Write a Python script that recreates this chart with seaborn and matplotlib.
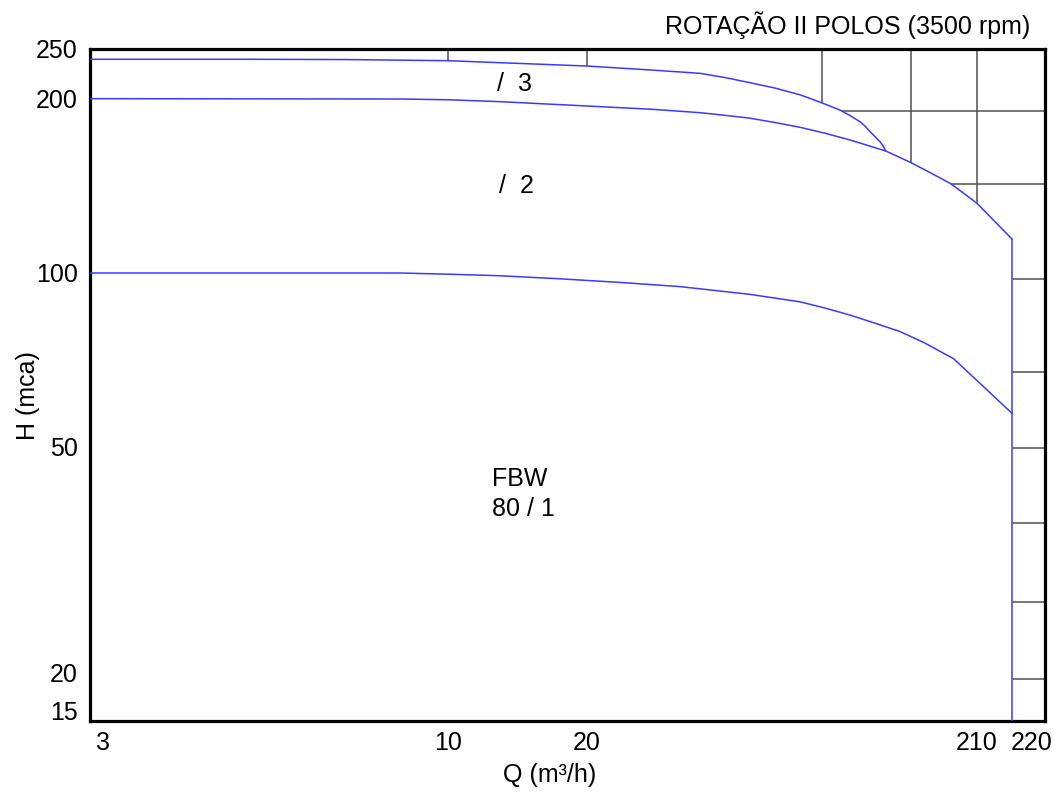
import numpy as np
import pandas as pd
import matplotlib
matplotlib.use("Agg")
import matplotlib.pyplot as plt
import seaborn as sns

# ---- performance data: flow Q (m³/h) and head H (mca) per stage ----
stage1_q = [2.866, 8.46, 10.1, 12.96, 17.48, 24.4, 35.0, 53.4, 72.2, 84.0, 97.6, 113.5,
            132.0, 153.5, 178.4, 182.1, 210.0, 216.3]
stage1_h = [100.0, 100.0, 99.5, 98.9, 97.7, 96.3, 94.7, 91.8, 89.1, 86.9, 84.5, 81.8,
            79.1, 75.5, 71.5, 71.0, 65.0, 57.0]

stage2_q = [2.866, 8.46, 10.0, 12.96, 20.0, 29.5, 39.5, 45.96, 53.4, 62.14, 72.2, 84.0,
            97.6, 121.1, 130.4, 141.1, 158.2, 178.4, 191.8, 210.0, 216.3]
stage2_h = [200.3, 200.0, 199.4, 197.9, 194.5, 192.0, 189.4, 187.4, 185.3, 182.1, 178.7, 174.5,
            169.9, 162.6, 159.0, 155.2, 149.2, 143.0, 138.1, 132.0, 114.5]

stage3_q = [2.866, 5.0, 7.0, 10.0, 20.0, 29.5, 39.5, 45.96, 53.4, 62.14, 72.2, 77.18, 82.5,
            91.9, 97.6, 103.7, 106.9, 110.2, 113.5, 117.0, 119.2, 121.1]
stage3_h = [238.8, 238.8, 238.5, 237.3, 231.7, 227.6, 224.3, 220.1, 215.1, 210.0, 203.8, 200.2, 196.9,
            191.4, 187.3, 182.7, 179.6, 175.6, 172.2, 168.7, 165.9, 162.6]

q_max = 216.3  # maximum flow of the model

# axis ticks and background grid
q_ticks = [3, 10, 20, 210, 220]
h_ticks = [15, 20, 50, 100, 200, 250]
grid_q = [10, 20, 82.5, 141.1, 210]
grid_h = [190.9, 142.6, 97.6, 67.3, 49.6, 36.6, 26.6, 19.1]

# calibration of the chart's hand-drawn axes (value -> position along axis)
Q_ANCHORS = [2.866, 3, 10, 20, 210, 220, 222.4]
Q_POS = [0, 13, 358, 497, 887, 942, 955]
H_ANCHORS = [13.77, 15, 20, 50, 100, 200, 250]
H_POS = [0, 11, 48, 275, 448, 622, 672]


def piecewise_log(anchors, positions):
    la = np.log10(np.asarray(anchors, float))
    pos = np.asarray(positions, float)

    def fwd(v):
        v = np.asarray(v, float)
        return np.interp(np.log10(np.clip(v, 1e-9, None)), la, pos)

    def inv(p):
        return 10 ** np.interp(np.asarray(p, float), pos, la)

    return fwd, inv


sns.set_theme(style="white")
plt.rcParams["font.family"] = ["Liberation Sans", "DejaVu Sans"]
plt.rcParams["text.color"] = "black"

BLUE = "#3a3aff"
GRID = "#505050"
FS = 18

df = pd.concat([
    pd.DataFrame({"Q": stage1_q, "H": stage1_h, "stage": "1"}),
    pd.DataFrame({"Q": stage2_q, "H": stage2_h, "stage": "2"}),
    pd.DataFrame({"Q": stage3_q, "H": stage3_h, "stage": "3"}),
], ignore_index=True)

fig = plt.figure(figsize=(10.6, 7.96), dpi=100)
ax = fig.add_axes([90 / 1060, 75 / 796, 955 / 1060, 672 / 796])

ax.set_xscale("function", functions=piecewise_log(Q_ANCHORS, Q_POS))
ax.set_yscale("function", functions=piecewise_log(H_ANCHORS, H_POS))
ax.set_xlim(Q_ANCHORS[0], Q_ANCHORS[-1])
ax.set_ylim(H_ANCHORS[0], H_ANCHORS[-1])

# background grid, hidden under the operating envelope
for q in grid_q:
    ax.axvline(q, color=GRID, lw=1.1, zorder=1)
for h in grid_h:
    ax.axhline(h, color=GRID, lw=1.1, zorder=1)

env_q = stage3_q + [q for q in stage2_q if q > stage3_q[-1]]
env_h = stage3_h + [h for q, h in zip(stage2_q, stage2_h) if q > stage3_q[-1]]
ax.fill_between(env_q, H_ANCHORS[0], env_h, color="white", lw=0, zorder=1.5)

sns.lineplot(data=df, x="Q", y="H", hue="stage", units="stage", estimator=None,
             sort=False, palette=[BLUE, BLUE, BLUE], lw=1.1, legend=False,
             ax=ax, zorder=3)
ax.plot([q_max, q_max], [stage2_h[-1], H_ANCHORS[0]], color=BLUE, lw=1.1, zorder=3)

ax.set_xlim(Q_ANCHORS[0], Q_ANCHORS[-1])
ax.set_ylim(H_ANCHORS[0], H_ANCHORS[-1])

ax.set_xticks(q_ticks, labels=[str(t) for t in q_ticks])
ax.set_yticks(h_ticks, labels=[str(t) for t in h_ticks])
ax.minorticks_off()
ax.tick_params(axis="both", length=0, labelsize=FS, labelcolor="black")
ax.tick_params(axis="x", pad=7)
ax.tick_params(axis="y", pad=9)

for sp in ax.spines.values():
    sp.set_visible(True)
    sp.set_color("black")
    sp.set_linewidth(2.3)

ax.set_xlabel("Q (m³/h)", fontsize=FS, color="black")
ax.set_ylabel("H (mca)", fontsize=FS, color="black")
ax.xaxis.set_label_coords(0.481, -0.062)
ax.yaxis.set_label_coords(-0.052, 0.484)

# stage labels
ax.text(12.77, 213.8, "/  3", fontsize=FS, ha="left", va="center", color="black")
ax.text(12.9, 141.4, "/  2", fontsize=FS, ha="left", va="center", color="black")
ax.text(12.44, 43.8, "FBW", fontsize=FS, ha="left", va="center", color="black")
ax.text(12.44, 38.8, "80 / 1", fontsize=FS, ha="left", va="center", color="black")

fig.text(1030 / 1060, 1 - 25 / 796, "ROTAÇÃO II POLOS (3500 rpm)",
         fontsize=FS, ha="right", va="center", color="black")

fig.savefig("out.png", dpi=100, facecolor="white")
